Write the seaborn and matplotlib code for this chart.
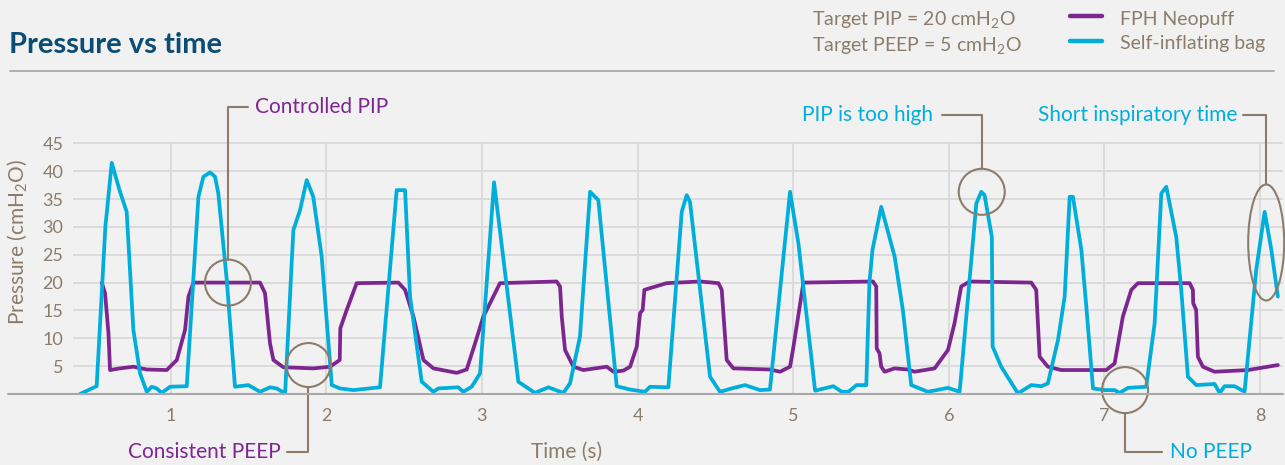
import numpy as np
import pandas as pd
import seaborn as sns
import matplotlib.pyplot as plt
from matplotlib.patches import Ellipse
from matplotlib.lines import Line2D

# values (time in s, pressure in cmH2O)
neo_t = [0.557, 0.578, 0.600, 0.610, 0.674, 0.760, 0.846, 0.974, 1.039, 1.092, 1.114, 1.146,
         1.574, 1.606, 1.638, 1.660, 1.724, 1.917, 2.024, 2.086, 2.090, 2.131, 2.195,
         2.463, 2.506, 2.560, 2.624, 2.688, 2.838, 2.902, 2.956, 3.009, 3.052, 3.116,
         3.480, 3.502, 3.513, 3.534, 3.588, 3.652, 3.802, 3.845, 3.909, 3.952, 3.995, 4.016,
         4.033, 4.044, 4.187, 4.402, 4.520, 4.541, 4.573, 4.616, 4.851, 4.916, 4.980, 5.002,
         5.066, 5.513, 5.534, 5.537, 5.555, 5.566, 5.588, 5.652, 5.738, 5.780, 5.909, 5.995,
         6.037, 6.080, 6.134, 6.530, 6.562, 6.584, 6.637, 6.723, 7.012, 7.066, 7.119, 7.173,
         7.216, 7.548, 7.569, 7.571, 7.590, 7.601, 7.633, 7.708, 7.923, 7.987, 8.115]
neo_p = [20.0, 18.1, 10.9, 4.3, 4.6, 4.9, 4.4, 4.3, 6.1, 11.5, 17.5, 20.0,
         20.0, 18.1, 9.1, 6.1, 4.8, 4.6, 4.9, 6.1, 11.8, 15.1, 19.9,
         20.0, 18.7, 13.9, 6.1, 4.6, 3.8, 4.4, 9.1, 13.9, 16.3, 19.9,
         20.2, 19.3, 13.9, 7.9, 4.9, 4.3, 4.9, 4.0, 4.2, 4.9, 8.5, 14.5,
         15.1, 18.7, 19.9, 20.2, 19.9, 18.7, 6.1, 4.6, 4.4, 4.0, 4.9, 8.5,
         20.0, 20.2, 19.3, 8.2, 7.3, 4.9, 4.0, 4.6, 4.4, 4.0, 4.6, 7.9,
         12.7, 19.3, 20.2, 20.0, 18.7, 6.7, 4.9, 4.3, 4.3, 5.5, 13.9, 18.7,
         19.9, 19.9, 18.7, 16.3, 15.1, 6.7, 4.9, 4.0, 4.3, 4.6, 5.2]

sib_t = [0.417, 0.524, 0.580, 0.621, 0.672, 0.717, 0.760, 0.803, 0.846, 0.878, 0.910, 0.942,
         0.996, 1.103, 1.178, 1.210, 1.253, 1.285, 1.306, 1.360, 1.413, 1.499, 1.574, 1.638,
         1.681, 1.735, 1.788, 1.831, 1.874, 1.916, 1.970, 2.035, 2.088, 2.174, 2.345, 2.452,
         2.506, 2.538, 2.613, 2.688, 2.720, 2.848, 2.880, 2.934, 2.988, 3.078, 3.234, 3.341,
         3.427, 3.523, 3.566, 3.630, 3.695, 3.748, 3.866, 3.952, 4.048, 4.080, 4.198, 4.284,
         4.316, 4.337, 4.466, 4.530, 4.605, 4.691, 4.787, 4.851, 4.980, 5.034, 5.141, 5.259,
         5.312, 5.355, 5.408, 5.470, 5.490, 5.510, 5.566, 5.652, 5.705, 5.759, 5.866, 5.995,
         6.070, 6.177, 6.209, 6.230, 6.277, 6.282, 6.337, 6.445, 6.530, 6.595, 6.637, 6.702,
         6.745, 6.777, 6.798, 6.852, 6.884, 6.927, 7.002, 7.066, 7.098, 7.152, 7.269, 7.323,
         7.366, 7.398, 7.462, 7.494, 7.537, 7.591, 7.708, 7.741, 7.773, 7.837, 7.901, 7.976,
         8.030, 8.073, 8.115]
sib_p = [0.0, 1.4, 30.0, 41.5, 36.5, 32.7, 11.5, 3.7, 0.4, 1.3, 1.0, 0.2,
         1.3, 1.4, 35.4, 39.0, 39.8, 39.0, 36.0, 20.5, 1.3, 1.6, 0.4, 1.2,
         1.0, 0.1, 29.4, 33.0, 38.4, 35.4, 24.7, 1.6, 1.0, 0.7, 1.2, 36.6,
         36.6, 17.5, 2.2, 0.4, 1.0, 1.2, 0.4, 1.3, 3.7, 38.0, 2.2, 0.2,
         1.2, 0.2, 1.9, 10.3, 36.3, 34.8, 1.4, 0.8, 0.4, 1.3, 1.2, 32.7,
         35.7, 34.5, 3.1, 0.4, 1.0, 1.6, 0.7, 0.8, 36.3, 27.0, 0.6, 1.4,
         0.4, 0.4, 1.6, 1.6, 19.9, 25.9, 33.6, 24.7, 15.1, 1.6, 0.4, 1.1,
         0.4, 34.2, 36.3, 35.7, 28.2, 8.5, 4.9, 0.1, 1.6, 1.4, 1.9, 9.7,
         17.5, 35.4, 35.4, 25.9, 15.7, 1.0, 0.7, 0.7, 0.2, 1.1, 1.3, 12.7,
         36.0, 37.2, 28.2, 18.7, 3.1, 1.6, 1.8, 0.2, 1.4, 1.4, 0.4, 22.3,
         32.7, 25.9, 17.5]

series_names = ['FPH Neopuff', 'Self-inflating bag']
x_ticks = [1, 2, 3, 4, 5, 6, 7, 8]
y_ticks = [5, 10, 15, 20, 25, 30, 35, 40, 45]

BG = '#f1f1f1'
PURPLE = '#7d2690'
BLUE = '#00aedb'
TAUPE = '#8c7c6b'
GRID = '#d9d9d9'

W, H = 1285, 465
sns.set_theme(style='whitegrid', rc={'axes.facecolor': BG, 'figure.facecolor': BG,
                                     'grid.color': GRID, 'grid.linewidth': 1.3})
plt.rcParams['font.family'] = ['Lato', 'DejaVu Sans']
plt.rcParams['mathtext.fontset'] = 'custom'
plt.rcParams['mathtext.rm'] = 'Lato'
plt.rcParams['mathtext.default'] = 'regular'

fig = plt.figure(figsize=(W / 100, H / 100), dpi=100)
ax = fig.add_axes([73 / W, 71 / H, 1210 / W, 45.3 * 5.57 / H])

df = pd.concat([
    pd.DataFrame({'time': neo_t, 'pressure': neo_p, 'device': series_names[0]}),
    pd.DataFrame({'time': sib_t, 'pressure': sib_p, 'device': series_names[1]}),
])
sns.lineplot(data=df, x='time', y='pressure', hue='device', hue_order=series_names,
             palette=[PURPLE, BLUE], sort=False, estimator=None, linewidth=2.7,
             solid_joinstyle='round', solid_capstyle='round', legend=False, ax=ax)

ax.set_xlim(0.372, 8.148)
ax.set_ylim(0, 45.3)
ax.set_xticks(x_ticks)
ax.set_yticks(y_ticks)
ax.set_xlabel('')
ax.set_ylabel('')
for s in ax.spines.values():
    s.set_visible(False)
ax.tick_params(axis='both', length=0, labelcolor=TAUPE, labelsize=13)
ax.tick_params(axis='x', pad=10)
ax.tick_params(axis='y', pad=7)

# pixel -> figure fraction helpers
fx = lambda px: px / W
fy = lambda py: 1 - py / H

# baseline + header rule
fig.add_artist(Line2D([fx(8), fx(1283)], [fy(394), fy(394)], color='#a8a8a8', lw=1.5))
fig.add_artist(Line2D([fx(10), fx(1274)], [fy(71), fy(71)], color='#a9a9a9', lw=1.3))

fig.text(fx(9), fy(53), 'Pressure vs time', fontsize=21, fontweight='bold',
         color='#0b4d74', va='baseline', ha='left')
fig.text(fx(812), fy(19), 'Target PIP = 20 cmH$_2$O', fontsize=14, color=TAUPE, va='center')
fig.text(fx(812), fy(46), 'Target PEEP = 5 cmH$_2$O', fontsize=14, color=TAUPE, va='center')

for yy, col, name in [(16.5, PURPLE, series_names[0]), (41.5, BLUE, series_names[1])]:
    fig.add_artist(Line2D([fx(1070), fx(1102)], [fy(yy), fy(yy)], color=col, lw=3.2))
    fig.text(fx(1120), fy(yy + 2.5), name, fontsize=14, color=TAUPE, va='center')

fig.text(fx(17), fy(242), 'Pressure (cmH$_2$O)', fontsize=15, color=TAUPE,
         rotation=90, va='center', ha='center')
ax.text(3.547, -10.4, 'Time (s)', fontsize=15, color=TAUPE, ha='center', va='center')

# callouts: circle centre, radii (px), elbow y, line end x, text x, ha
px_t = 1210 / (8.148 - 0.372)
px_p = 5.57
callouts = [
    ('Controlled PIP', PURPLE, (1.368, 20.0), (23, 23), 51.5, 1.497, 1.542, 'left'),
    ('Consistent PEEP', PURPLE, (1.885, 5.2), (22, 22), -10.4, 1.747, 1.710, 'right'),
    ('PIP is too high', BLUE, (6.212, 36.3), (23, 23), 50.1, 5.957, 5.899, 'right'),
    ('Short inspiratory time', BLUE, (8.040, 27.2), (18, 58), 50.1, 7.891, 7.853, 'right'),
    ('No PEEP', BLUE, (7.133, 0.7), (23, 23), -10.4, 7.371, 7.422, 'left'),
]
for label, col, (ct, cp), (rx, ry), ey, lx, tx, ha in callouts:
    ax.add_patch(Ellipse((ct, cp), 2 * rx / px_t, 2 * ry / px_p, fill=False,
                         edgecolor=TAUPE, lw=1.5, clip_on=False, zorder=5))
    edge = cp + ry / px_p if ey > cp else cp - ry / px_p
    ax.plot([ct, ct, lx], [edge, ey, ey], color=TAUPE, lw=1.5, clip_on=False, zorder=5)
    ax.text(tx, ey, label, fontsize=15, color=col, ha=ha, va='center')

fig.savefig('out.png', dpi=100, facecolor=BG)
